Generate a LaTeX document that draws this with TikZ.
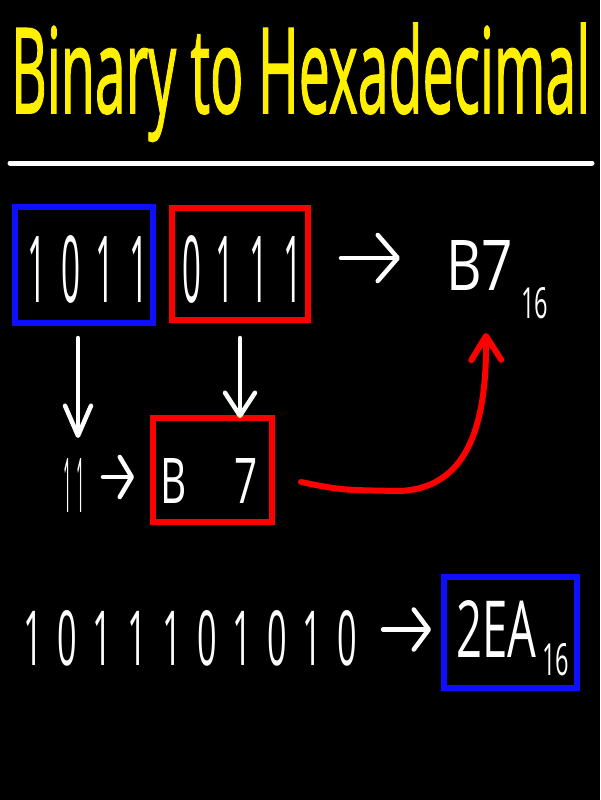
\documentclass[tikz,border=0pt]{standalone}
\usepackage{fontspec}
\usepackage{graphicx}
\setmainfont{Open Sans}
\newfontfamily\titlefont[FakeBold=1.5]{Open Sans}
\newfontfamily\spaced[LetterSpace=45]{Open Sans}
\usetikzlibrary{arrows.meta,calc}
\definecolor{ttl}{RGB}{255,240,0}
\definecolor{bl}{RGB}{15,15,255}
\definecolor{rd}{RGB}{255,0,0}
\newcommand\fitbox[3]{\resizebox{#1pt}{#2pt}{#3}}
\begin{document}
\begin{tikzpicture}[x=1pt,y=-1pt,
  every node/.style={inner sep=0pt,outer sep=0pt},
  wtxt/.style={text=white,anchor=base west},
  boxb/.style={draw=bl,line width=6pt,minimum width=#1},
  boxr/.style={draw=rd,line width=6pt,minimum width=#1},
  warr/.style={draw=white,line width=4.5pt,line cap=round,line join=round},
  rcurve/.style={draw=rd,line width=6pt,line cap=round,line join=round}]
\fill[black] (0,0) rectangle (600,800);
% title
\node[anchor=base west,text=ttl] (title) at (11,113) {\fitbox{579}{90}{\titlefont Binary to Hexadecimal}};
\coordinate (l1) at (10,163);
\coordinate (l2) at (592,163);
\draw[white,line width=5pt,line cap=round] (l1) -- (l2);
% top row
\node[boxb=138,minimum height=116] (blue1) at (84,265) {};
\node[boxr=136,minimum height=112] (red1) at (240,264) {};
\node[wtxt] (d1) at (27,302) {\fitbox{121}{67}{\spaced 1011}};
\node[wtxt] (d2) at (182,302) {\fitbox{120}{67}{\spaced 0111}};
\node[wtxt] (b7) at (446,290) {\fitbox{67}{50}{B7}};
\node[wtxt] (s1) at (521,318) {\fitbox{27}{31}{16}};
% middle
\node[wtxt] (ones) at (63,512) {\fitbox{22}{54}{1\hspace{0.35em}1}};
\node[boxr=119,minimum height=104] (hexbox) at (212.5,470) {};
\node[wtxt] (hx) at (160,503) {\fitbox{98}{45}{B\hspace{1.2em}7}};
% bottom
\node[wtxt] (bits) at (23,665) {\fitbox{334}{55}{\spaced 1011101010}};
\node[boxb=133,minimum height=111] (blue2) at (510.5,632.5) {};
\node[wtxt] (hx2) at (456,657) {\fitbox{80}{57}{2EA}};
\node[wtxt] (s2) at (542,675) {\fitbox{27}{32}{16}};
% arrows
\draw[warr,-{Straight Barb[round,length=30pt,width=26pt]},shorten <=15pt,shorten >=20pt]
  ([xshift=-6pt]blue1.south) -- ([xshift=-6pt]blue1.south |- ones.north);
\draw[warr,-{Straight Barb[round,length=23pt,width=30pt]},shorten <=18pt]
  (red1.south) -- (red1.south |- hexbox.north);
\draw[warr,-{Straight Barb[round,length=20pt,width=46pt]},shorten <=33pt,shorten >=46pt]
  ([yshift=6pt]red1.east) -- ([yshift=6pt]red1.east -| b7.west);
\draw[warr,-{Straight Barb[round,length=12pt,width=40pt]},shorten <=18pt,shorten >=19pt]
  ([yshift=8pt]ones.east) -- ([yshift=8pt]ones.east -| hexbox.west);
\draw[warr,-{Straight Barb[round,length=15pt,width=40pt]},shorten <=26pt,shorten >=13pt]
  ([yshift=3pt]blue2.west -| bits.east) -- ([yshift=3pt]blue2.west);
\draw[rcurve,-{Straight Barb[round,length=24pt,width=30pt]}]
  ($(hexbox.east)+(29,12)$) .. controls +(39,8) .. (400,491)
  .. controls (465,488) and (487,430) .. ($(b7.south)+(6.5,43)$);
\end{tikzpicture}
\end{document}
